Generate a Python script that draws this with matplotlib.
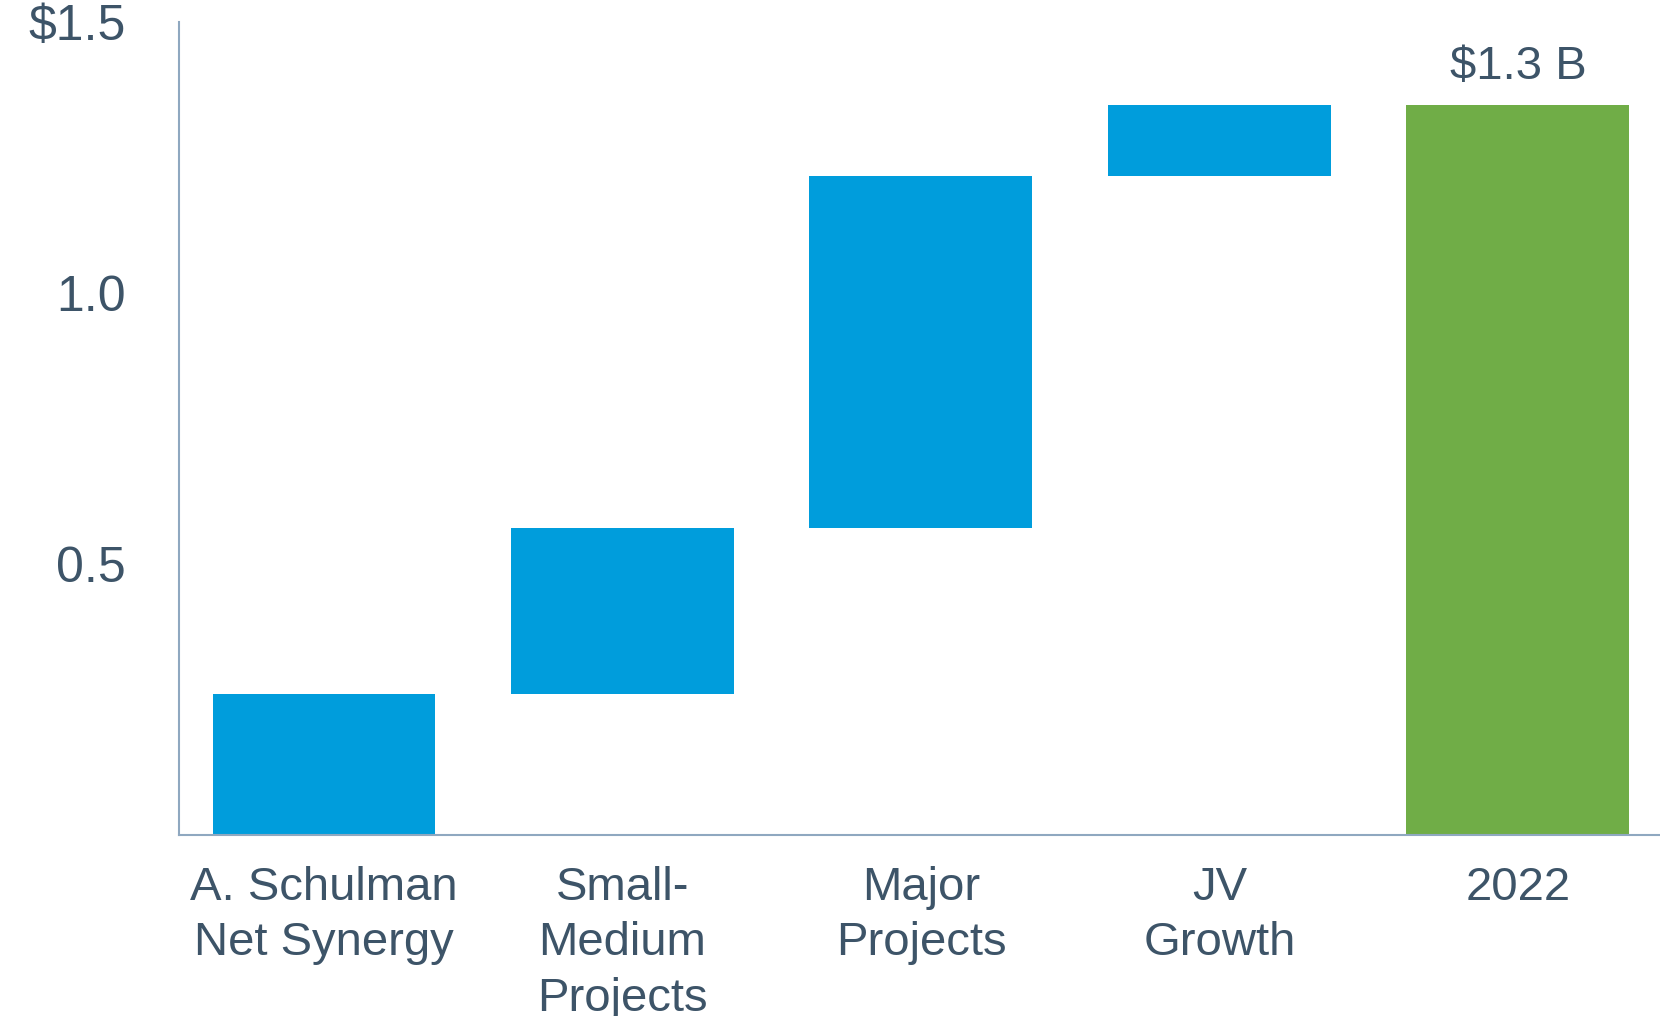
import numpy as np
import matplotlib
matplotlib.use('Agg')
import matplotlib.pyplot as plt

plt.rcParams['font.family'] = ['Liberation Sans', 'DejaVu Sans']

# waterfall data ($ billions)
categories = ['A. Schulman\nNet Synergy', 'Small-\nMedium\nProjects', 'Major\nProjects', 'JV\nGrowth', '2022']
steps = [0.260, 0.306, 0.650, 0.131]
total = 1.347
total_label = '$1.3 B'
yticks = [0.5, 1.0, 1.5]
ytick_labels = ['0.5', '1.0', '$1.5']

text_color = '#3d5468'
axis_color = '#8fa8c0'
blue = '#009ddc'
green = '#70ad47'

bottoms = np.concatenate([[0], np.cumsum(steps)[:-1]])
x = np.arange(len(categories))

fig = plt.figure(figsize=(16.6, 10.16), dpi=100)
ax = fig.add_axes([0.1078, 0.178, 0.8922, 0.8])

ax.bar(x[:-1], steps, bottom=bottoms, width=0.747, color=blue)
ax.bar(x[-1], total, width=0.747, color=green)
ax.text(x[-1], total + 0.03, total_label, ha='center', va='bottom',
        fontsize=34, color=text_color)

ax.set_xlim(-0.486, 4.476)
ax.set_ylim(0, 1.5)
ax.set_yticks(yticks)
ax.set_yticklabels(ytick_labels)
ax.set_xticks(x)
ax.set_xticklabels(categories, linespacing=1.34)

ax.tick_params(axis='y', length=0, pad=38, labelsize=36, labelcolor=text_color)
ax.tick_params(axis='x', length=0, pad=22, labelsize=34, labelcolor=text_color)

for s in ['top', 'right']:
    ax.spines[s].set_visible(False)
for s in ['left', 'bottom']:
    ax.spines[s].set_color(axis_color)
    ax.spines[s].set_linewidth(1.5)

fig.savefig('out.png', dpi=100)
